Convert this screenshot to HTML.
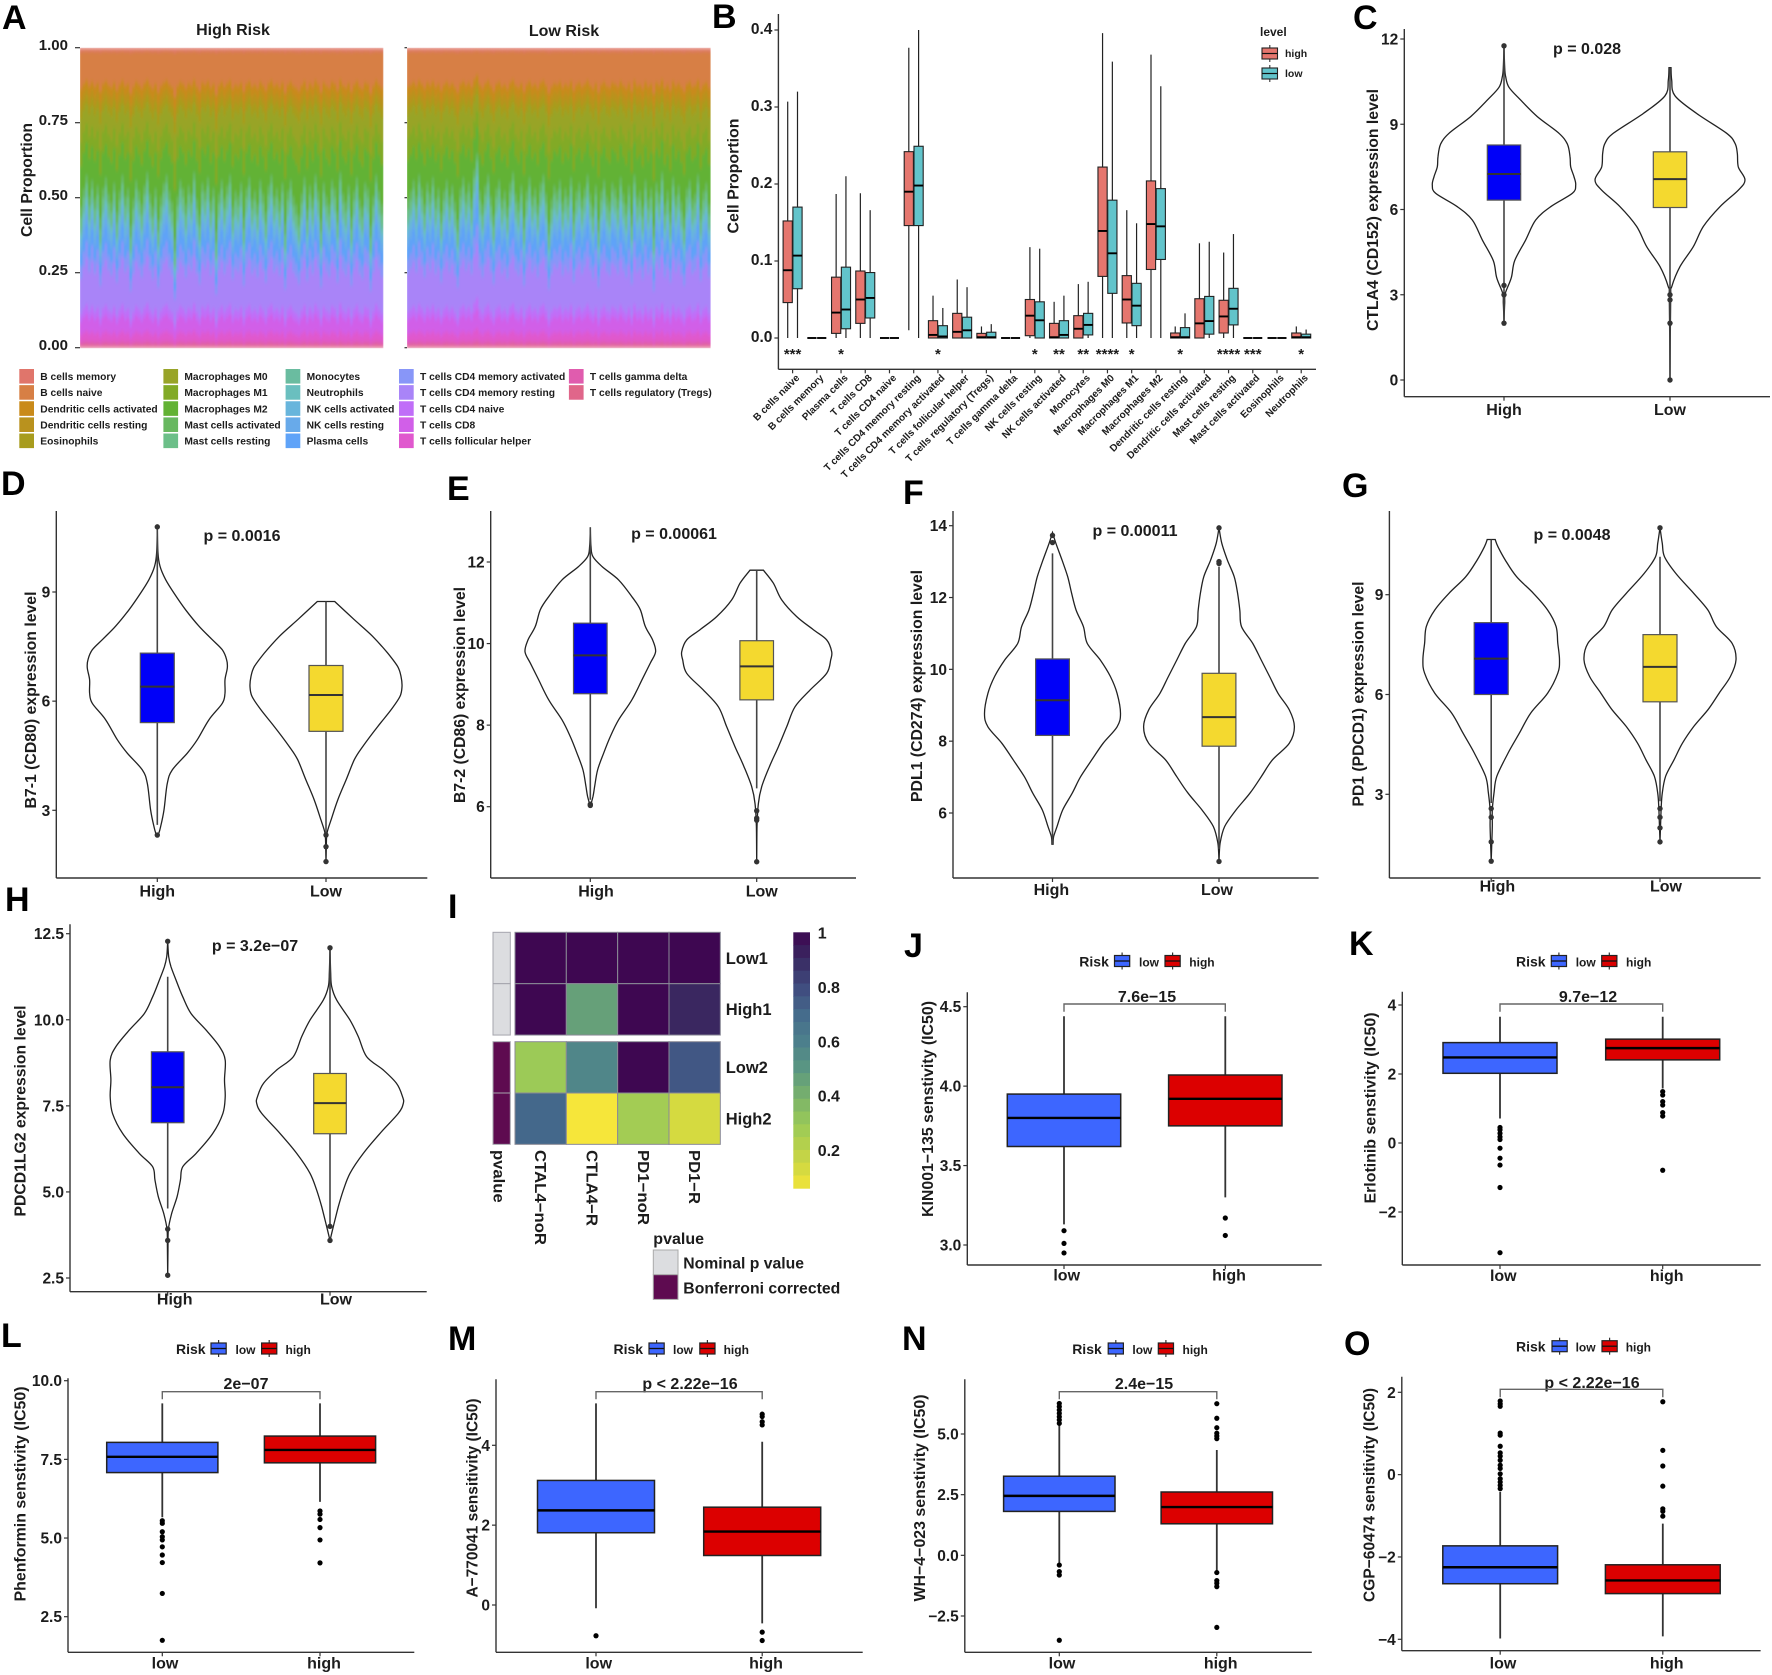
<!DOCTYPE html>
<html lang="en">
<head>
<meta charset="utf-8">
<title>Immune infiltration and drug sensitivity figure</title>
<style>
html,body{margin:0;padding:0;background:#fff}
svg{display:block}
text{font-family:"Liberation Sans",sans-serif;font-weight:bold;fill:#1c1c1c}
.letter{font-size:34px;fill:#000}
.ytitle{font-size:16px;text-anchor:middle}
.pval{font-size:16px;text-anchor:middle}
</style>
</head>
<body>
<svg id="fig" xmlns="http://www.w3.org/2000/svg" width="1772" height="1675" viewBox="0 0 1772 1675">
<defs>
<filter id="soft" x="-2%" y="-2%" width="104%" height="104%"><feGaussianBlur stdDeviation="0.7 2"/></filter>
<clipPath id="clipHigh"><rect x="80" y="47.7" width="303.4" height="300.6"/></clipPath>
<clipPath id="clipLow"><rect x="407" y="47.7" width="303.7" height="300.6"/></clipPath>
</defs>
<rect width="1772" height="1675" fill="#fff"/>

<g id="pA">
<text class="letter" x="2" y="29">A</text>
<text x="233" y="35" font-size="16" text-anchor="middle">High Risk</text>
<text x="564" y="36" font-size="16" text-anchor="middle">Low Risk</text>
<text class="ytitle" transform="translate(32,180) rotate(-90)" textLength="114" lengthAdjust="spacingAndGlyphs">Cell Proportion</text>
</g>
<g id="pB">
<text class="letter" x="712" y="28">B</text>
<text class="ytitle" transform="translate(738.5,176) rotate(-90)" textLength="115" lengthAdjust="spacingAndGlyphs">Cell Proportion</text>
<text x="1260" y="36" font-size="12">level</text>
</g>
<g id="pC">
<text class="letter" x="1353" y="29">C</text>
<text class="ytitle" transform="translate(1378,210) rotate(-90)" textLength="242" lengthAdjust="spacingAndGlyphs">CTLA4 (CD152) expression level</text>
<text class="pval" x="1587" y="54">p = 0.028</text>
</g>
<g id="pD">
<text class="letter" x="1" y="495">D</text>
<text class="ytitle" transform="translate(36,700) rotate(-90)" textLength="217" lengthAdjust="spacingAndGlyphs">B7-1 (CD80) expression level</text>
<text class="pval" x="242" y="541">p = 0.0016</text>
</g>
<g id="pE">
<text class="letter" x="447" y="500">E</text>
<text class="ytitle" transform="translate(465,695) rotate(-90)" textLength="216" lengthAdjust="spacingAndGlyphs">B7-2 (CD86) expression level</text>
<text class="pval" x="674" y="539">p = 0.00061</text>
</g>
<g id="pF">
<text class="letter" x="903" y="504">F</text>
<text class="ytitle" transform="translate(922,686) rotate(-90)" textLength="232" lengthAdjust="spacingAndGlyphs">PDL1 (CD274) expression level</text>
<text class="pval" x="1135" y="536">p = 0.00011</text>
</g>
<g id="pG">
<text class="letter" x="1342" y="497">G</text>
<text class="ytitle" transform="translate(1363.5,694) rotate(-90)" textLength="225" lengthAdjust="spacingAndGlyphs">PD1 (PDCD1) expression level</text>
<text class="pval" x="1572" y="540">p = 0.0048</text>
</g>
<g id="pH">
<text class="letter" x="5" y="911">H</text>
<text class="ytitle" transform="translate(25.5,1111) rotate(-90)" textLength="211" lengthAdjust="spacingAndGlyphs">PDCD1LG2 expression level</text>
<text class="pval" x="255" y="951">p = 3.2e−07</text>
</g>
<g id="pI">
<text class="letter" x="448" y="918">I</text>
<text x="653.3" y="1244" font-size="16">pvalue</text>
<rect x="653.3" y="1250" width="24.7" height="24.7" fill="#DCDDE0" stroke="#aaa" stroke-width="1"/>
<rect x="653.3" y="1274.7" width="24.7" height="24.7" fill="#5E0B50" stroke="#aaa" stroke-width="1"/>
<text x="683.3" y="1268.3" font-size="16" textLength="120.7" lengthAdjust="spacingAndGlyphs">Nominal p value</text>
<text x="683.3" y="1293.3" font-size="16" textLength="157" lengthAdjust="spacingAndGlyphs">Bonferroni corrected</text>
</g>
<g id="pJ">
<text class="letter" x="904" y="957">J</text>
<text class="ytitle" transform="translate(933,1109) rotate(-90)" textLength="216" lengthAdjust="spacingAndGlyphs">KIN001−135 senstivity (IC50)</text>
<text class="pval" x="1147" y="1002">7.6e−15</text>
</g>
<g id="pK">
<text class="letter" x="1349" y="955">K</text>
<text class="ytitle" transform="translate(1375.5,1108) rotate(-90)" textLength="191" lengthAdjust="spacingAndGlyphs">Erlotinib senstivity (IC50)</text>
<text class="pval" x="1588" y="1002">9.7e−12</text>
</g>
<g id="pL">
<text class="letter" x="1" y="1347">L</text>
<text class="ytitle" transform="translate(25.5,1494) rotate(-90)" textLength="215" lengthAdjust="spacingAndGlyphs">Phenformin senstivity (IC50)</text>
<text class="pval" x="246" y="1389">2e−07</text>
</g>
<g id="pM">
<text class="letter" x="448" y="1350">M</text>
<text class="ytitle" transform="translate(477.5,1498) rotate(-90)" textLength="199" lengthAdjust="spacingAndGlyphs">A−770041 sensitivity (IC50)</text>
<text class="pval" x="690" y="1389">p &lt; 2.22e−16</text>
</g>
<g id="pN">
<text class="letter" x="902" y="1350">N</text>
<text class="ytitle" transform="translate(925,1498) rotate(-90)" textLength="207" lengthAdjust="spacingAndGlyphs">WH−4−023 senstivity (IC50)</text>
<text class="pval" x="1144" y="1389">2.4e−15</text>
</g>
<g id="pO">
<text class="letter" x="1344" y="1355">O</text>
<text class="ytitle" transform="translate(1374.5,1495) rotate(-90)" textLength="214" lengthAdjust="spacingAndGlyphs">CGP−60474 sensitivity (IC50)</text>
<text class="pval" x="1592" y="1388">p &lt; 2.22e−16</text>
</g>
</svg>
<script>
/* ===== Panel A data ===== */
const cellTypes=['B cells memory','B cells naive','Dendritic cells activated','Dendritic cells resting','Eosinophils','Macrophages M0','Macrophages M1','Macrophages M2','Mast cells activated','Mast cells resting','Monocytes','Neutrophils','NK cells activated','NK cells resting','Plasma cells','T cells CD4 memory activated','T cells CD4 memory resting','T cells CD4 naive','T cells CD8','T cells follicular helper','T cells gamma delta','T cells regulatory (Tregs)'];
const cellColors=['#E0756B','#D77F45','#C98A1A','#B9921E','#A89C1E','#98A428','#82AA26','#62B234','#68B860','#6CBF88','#6ABCA0','#6ABFBF','#68B5DC','#68AAEA','#5FA3F8','#8896F8','#A984F8','#C06EF8','#D15FE8','#E058CE','#E05CAE','#E0668A'];
const cellMeans=[.012,.108,.03,.03,.03,.07,.07,.12,.03,.03,.02,.02,.03,.03,.05,.05,.14,.03,.05,.03,.01,.01];
const proportionTicks=['0.00','0.25','0.50','0.75','1.00'];
const highRiskSplit=[.40,.47,.52,.44,.50,.43,.48,.36,.47,.51,.45,.42,.49,.38,.46,.52,.44,.47,.33,.43,.50,.46,.41,.48,.53,.45,.40,.47,.35,.44,.49,.52,.46,.42,.28,.44,.50,.47,.41,.48,.45,.53,.43,.37,.49,.46,.51,.42,.47,.31,.45,.50,.43,.48,.52,.40,.46,.44,.49,.36,.47,.51,.43,.46,.41,.50,.45,.38,.48,.52,.44,.47,.42,.49,.34,.46,.50,.44,.41,.37,.45,.51,.39,.48,.43,.52,.46,.35,.49,.44,.41,.50,.47,.38,.53,.45,.42,.48,.36,.46,.51,.43,.40,.49,.47,.33,.44,.52,.46,.41];
const lowRiskSplit=[.43,.46,.50,.44,.52,.47,.41,.49,.45,.51,.43,.47,.38,.46,.50,.44,.48,.42,.35,.47,.51,.45,.49,.43,.54,.60,.46,.41,.48,.52,.44,.37,.47,.50,.43,.46,.40,.49,.53,.45,.42,.48,.36,.46,.51,.44,.47,.41,.49,.52,.45,.34,.43,.48,.46,.50,.42,.47,.44,.51,.38,.46,.49,.43,.47,.52,.45,.40,.48,.35,.46,.50,.44,.42,.49,.47,.43,.51,.45,.41,.48,.37,.52,.44,.46,.40,.50,.43,.47,.33,.49,.45,.53,.41,.46,.38,.51,.44,.48,.42,.36,.47,.50,.43,.45,.52,.39,.46,.49,.41];

/* ===== Panel B data ===== */
const immuneCells=['B cells naive','B cells memory','Plasma cells','T cells CD8','T cells CD4 naive','T cells CD4 memory resting','T cells CD4 memory activated','T cells follicular helper','T cells regulatory (Tregs)','T cells gamma delta','NK cells resting','NK cells activated','Monocytes','Macrophages M0','Macrophages M1','Macrophages M2','Dendritic cells resting','Dendritic cells activated','Mast cells resting','Mast cells activated','Eosinophils','Neutrophils'];
const bTicks=['0.0','0.1','0.2','0.3','0.4'];
const bHighUpper=[.307,0,.187,.188,0,.377,.055,.076,.015,0,.118,.047,.07,.396,.166,.368,.015,.123,.111,0,0,.015];
const bHighQ3=[.152,0,.079,.087,0,.242,.0225,.032,.006,0,.05,.019,.029,.222,.081,.204,.0065,.051,.049,0,0,.0065];
const bHighMedian=[.088,0,.033,.05,0,.19,.004,.008,.001,0,.029,.001,.012,.139,.05,.148,.001,.019,.028,0,0,.001];
const bHighQ1=[.046,0,.006,.019,0,.146,0,0,0,0,.003,0,0,.08,.0195,.089,0,0,.0065,0,0,0];
const bHighLower=[0,0,0,0,0,.01,0,0,0,0,0,0,0,0,0,0,0,0,0,0,0,0];
const bLowUpper=[.32,0,.21,.166,0,.4,.039,.066,.018,0,.116,.055,.073,.359,.149,.327,.032,.125,.135,0,0,.011];
const bLowQ3=[.17,0,.092,.085,0,.249,.016,.027,.0075,0,.047,.0225,.032,.179,.071,.194,.0135,.054,.0645,0,0,.005];
const bLowMedian=[.107,0,.037,.052,0,.198,.002,.01,.001,0,.023,.004,.017,.11,.042,.145,.001,.022,.038,0,0,.001];
const bLowQ1=[.064,0,.012,.026,0,.146,0,0,0,0,0,0,.004,.058,.016,.102,0,.005,.017,0,0,0];
const bLowLower=[0,0,0,0,0,0,0,0,0,0,0,0,0,0,0,0,0,0,0,0,0,0];
const bStars=['***','','*','','','','*','','','','*','**','**','****','*','','*','','****','***','','*'];

/* ===== Violin panels: levels, density, box [lower,q1,median,q3,upper], outliers ===== */
const riskGroups=['High','Low'];

const cTicks=['0','3','6','9','12'];
const cLevelsHigh=[11.76,11,10.67,10.3,9.85,9.27,8.68,8.3,7.86,7.5,7.15,6.86,6.57,6.1,5.63,4.93,4.2,3.6,3.05,2.7,2];
const cDensityHigh=[0,2,5,15,50,100,165,190,198,200,210,215,205,140,95,65,32,22,4,2,0];
const cBoxHigh=[2,6.33,7.25,8.27,11.76];
const cOutliersHigh=[11.76,3.33,3,2];
const cLevelsLow=[10.99,10.55,10,9.38,8.68,8.33,7.98,7.5,7.04,6.68,6.1,5.4,4.69,3.99,3.28,2.93,0];
const cDensityLow=[3,5,15,80,170,195,202,205,225,205,150,100,70,30,5,2,0];
const cBoxLow=[0,6.07,7.07,8.03,10.99];
const cOutliersLow=[3,2.82,2,0];

const dTicks=['3','6','9'];
const dLevelsHigh=[10.79,10.07,9.71,9.34,8.97,8.51,8.06,7.69,7.41,7.14,6.91,6.59,6.22,5.94,5.49,4.94,4.57,4.11,3.74,3.01,2.55,2.32];
const dDensityHigh=[0,2,8,25,50,85,125,165,195,208,210,203,203,195,155,120,90,45,30,20,10,3];
const dBoxHigh=[2.6,5.41,6.4,7.32,10.79];
const dOutliersHigh=[10.79,2.32];
const dLevelsLow=[8.74,8.24,7.78,7.32,6.95,6.68,6.4,6.13,5.76,5.3,4.75,4.39,3.83,3.28,2.73,2.37,2,1.59];
const dDensityLow=[26,85,140,185,215,225,228,222,195,155,110,85,60,35,15,3,1,0];
const dBoxLow=[2.37,5.17,6.17,6.98,8.74];
const dOutliersLow=[2.32,2,1.59];

const eTicks=['6','8','10','12'];
const eLevelsHigh=[12.85,12.38,12.13,11.89,11.56,11.15,10.83,10.42,10.09,9.8,9.52,9.11,8.62,8.13,7.72,7.31,6.9,6.49,6.25,6];
const eDensityHigh=[0,2,8,35,85,125,150,165,187,196,180,155,125,85,60,40,22,13,8,0];
const eBoxHigh=[6.17,8.77,9.71,10.5,12.85];
const eOutliersHigh=[6.06,6.03];
const eLevelsLow=[11.8,11.48,11.07,10.66,10.34,10.09,9.8,9.6,9.27,8.86,8.45,7.96,7.47,6.98,6.49,6.08,5.51,4.65];
const eDensityLow=[20,50,75,120,170,210,225,222,210,160,115,90,65,38,15,5,1,0];
const eBoxLow=[6.45,8.62,9.44,10.07,11.8];
const eOutliersLow=[5.9,5.72,5.67,4.65];

const fTicks=['6','8','10','12','14'];
const fLevelsHigh=[13.81,13.51,13.04,12.58,12.12,11.65,11.19,10.72,10.26,9.8,9.33,8.77,8.4,7.94,7.48,7.01,6.55,6.08,5.62,5.34,5.13];
const fDensityHigh=[0,6,17,27,34,42,55,62,85,103,115,121,115,90,70,50,35,18,8,2,1];
const fBoxHigh=[5.13,8.16,9.14,10.29,13.23];
const fOutliersHigh=[13.73,13.53];
const fLevelsLow=[13.94,13.51,13.04,12.58,12.12,11.65,11.19,10.72,10.26,9.8,9.33,8.87,8.4,7.94,7.48,7.01,6.55,6.08,5.62,5.16,4.65];
const fDensityLow=[0,5,15,27,33,37,40,60,75,90,105,125,134,125,95,75,55,30,10,2,0];
const fBoxLow=[5,7.86,8.67,9.89,12.86];
const fOutliersLow=[13.94,13,12.95,4.65];

const gTicks=['3','6','9'];
const gLevelsHigh=[10.66,10.44,10.04,9.54,9.04,8.54,8.04,7.54,7.04,6.64,6.04,5.44,4.84,4.24,3.54,3.04,2.54,2.04,1.54,.99];
const gDensityHigh=[7,12,25,45,75,100,115,118,121,118,100,70,50,30,10,5,2,2,1,0];
const gBoxHigh=[2.74,6,7.08,8.16,10.66];
const gOutliersHigh=[2.57,2.31,1.57,.99];
const gLevelsLow=[11.01,10.54,10.14,9.64,9.04,8.54,8.04,7.54,7.04,6.54,6.04,5.54,5.04,4.54,4.04,3.54,3.04,2.54,1.57];
const gDensityLow=[0,4,8,28,60,85,100,128,135,125,105,85,60,40,25,10,4,2,0];
const gBoxLow=[2.79,5.78,6.83,7.8,10.14];
const gOutliersLow=[11.01,2.57,2.31,1.99,1.57];

const hTicks=['2.5','5.0','7.5','10.0','12.5'];
const hLevelsHigh=[12.28,11.83,11.54,11.15,10.67,10.18,9.7,9.22,8.83,8.25,7.76,7.28,6.7,6.12,5.73,5.34,4.86,4.38,3.92,3.41,2.58];
const hDensityHigh=[0,3,10,25,45,70,115,155,172,170,172,165,135,85,45,38,28,12,2,1,0];
const hBoxHigh=[4.52,7.01,8.04,9.07,11.25];
const hOutliersHigh=[12.28,3.92,3.59,2.58];
const hLevelsLow=[12.09,11.35,10.96,10.57,9.99,9.51,8.93,8.54,8.15,7.76,7.57,7.28,6.7,6.12,5.54,5.05,4.57,3.99,3.59];
const hDensityLow=[0,2,5,20,60,85,110,160,200,218,220,205,150,100,60,40,25,10,0];
const hBoxLow=[3.99,6.69,7.58,8.44,12.09];
const hOutliersLow=[12.09,4,3.59];

/* ===== Heatmap data ===== */
const heatRows=['Low1','High1','Low2','High2'];
const heatCols=['CTAL4−noR','CTLA4−R','PD1−noR','PD1−R'];
const heatValuesLow1=[1,1,1,1];
const heatValuesHigh1=[1,.46,1,.91];
const heatValuesLow2=[.29,.57,1,.76];
const heatValuesHigh2=[.71,.06,.27,.13];
const colorbarTicks=['1','0.8','0.6','0.4','0.2'];
const annotationGroups=['Nominal p value','Nominal p value','Bonferroni corrected','Bonferroni corrected'];

/* ===== Drug boxplots: box [lower,q1,median,q3,upper], outliers ===== */
const drugGroups=['low','high'];

const jTicks=['3.0','3.5','4.0','4.5'];
const jBoxLow=[3.13,3.62,3.8,3.95,4.44];
const jOutliersLow=[3.09,3.01,2.95];
const jBoxHigh=[3.3,3.75,3.92,4.07,4.44];
const jOutliersHigh=[3.17,3.06];

const kTicks=['−2','0','2','4'];
const kBoxLow=[.71,2.02,2.48,2.91,3.66];
const kOutliersLow=[.45,.38,.28,.18,.1,-.15,-.44,-.64,-1.29,-3.18];
const kBoxHigh=[1.58,2.41,2.75,3.01,3.66];
const kOutliersHigh=[1.49,1.39,1.2,1.1,.88,.78,-.79];

const lTicks=['2.5','5.0','7.5','10.0'];
const lBoxLow=[5.66,7.08,7.58,8.04,9.28];
const lOutliersLow=[5.55,5.47,5.2,5.04,4.94,4.72,4.46,4.22,3.24,1.75];
const lBoxHigh=[6.15,7.39,7.8,8.24,9.28];
const lOutliersHigh=[5.86,5.76,5.59,5.33,4.94,4.21];

const mTicks=['0','2','4'];
const mBoxLow=[-.08,1.81,2.37,3.12,5.05];
const mOutliersLow=[-.77];
const mBoxHigh=[-.46,1.24,1.84,2.45,4.09];
const mOutliersHigh=[4.78,4.72,4.59,4.51,-.68,-.89];

const nTicks=['−2.5','0.0','2.5','5.0'];
const nBoxLow=[-.33,1.81,2.45,3.26,5.37];
const nOutliersLow=[6.26,6.13,5.99,5.85,5.71,5.58,5.44,-.4,-.67,-.81,-3.5];
const nBoxHigh=[-.67,1.3,1.99,2.61,4.34];
const nOutliersHigh=[6.25,5.65,5.26,5.03,4.92,4.81,-.71,-1.04,-1.15,-1.29,-2.97];

const oTicks=['−4','−2','0','2'];
const oBoxLow=[-3.98,-2.65,-2.25,-1.73,-.42];
const oOutliersLow=[1.79,1.72,1.66,1.01,.96,.69,.53,.45,.35,.23,.15,.02,-.1,-.18,-.26,-.34];
const oBoxHigh=[-3.93,-2.89,-2.57,-2.19,-1.19];
const oOutliersHigh=[1.77,.59,.21,-.28,-.83,-.89,-1.01];

/* ===== Helpers ===== */
const NS='http://www.w3.org/2000/svg';
function add(parent,tag,name,attrs,text){
  const el=document.createElementNS(NS,tag);
  for(const k in attrs){el.setAttribute(k,attrs[k]);}
  
  
  if(text!==undefined){el.textContent=text;}
  parent.appendChild(el);
  return el;
}
function tickNumber(s){return Number(String(s).replace('−','-'));}
function linearY(p){const k=(p.py1-p.py0)/(p.v1-p.v0);return v=>p.py0+(v-p.v0)*k;}
function drawYAxis(g,p,ticks,y){
  add(g,'line','y-axis-line',{x1:p.axisX,x2:p.axisX,y1:p.top,y2:p.bottom,stroke:'#333','stroke-width':1.4});
  ticks.forEach(t=>{
    const yy=y(tickNumber(t));
    add(g,'line','y-axis-tick',{x1:p.axisX-4,x2:p.axisX,y1:yy,y2:yy,stroke:'#333','stroke-width':1.2});
    add(g,'text','y-axis-tick-label',{x:p.axisX-6,y:yy+(p.tickShift===undefined?5.5:p.tickShift),'font-size':15.5,'text-anchor':'end'},t);
  });
}
function drawXAxis(g,p,labels){
  add(g,'line','x-axis-line',{x1:p.axisX,x2:p.right,y1:p.bottom,y2:p.bottom,stroke:'#333','stroke-width':1.4});
  labels.forEach((c,i)=>{
    add(g,'line','x-axis-tick',{x1:p.centers[i],x2:p.centers[i],y1:p.bottom,y2:p.bottom+4,stroke:'#333','stroke-width':1.2});
    add(g,'text','x-axis-tick-label',{x:p.labelX[i],y:p.labelY,'font-size':p.labelSize||16,'text-anchor':'middle'},c);
  });
}
function smoothSegment(pts,first){
  let d=first?('M'+pts[0].x.toFixed(1)+' '+pts[0].y.toFixed(1)):('L'+pts[0].x.toFixed(1)+' '+pts[0].y.toFixed(1));
  for(let i=0;i<pts.length-1;i++){
    const a=pts[Math.max(i-1,0)],b=pts[i],c=pts[i+1],e=pts[Math.min(i+2,pts.length-1)];
    const c1x=b.x+(c.x-a.x)/6,c1y=b.y+(c.y-a.y)/6,c2x=c.x-(e.x-b.x)/6,c2y=c.y-(e.y-b.y)/6;
    d+='C'+c1x.toFixed(1)+' '+c1y.toFixed(1)+' '+c2x.toFixed(1)+' '+c2y.toFixed(1)+' '+c.x.toFixed(1)+' '+c.y.toFixed(1);
  }
  return d;
}
function drawViolin(g,y,cx,halfW,levels,density,box,outliers,fill,boxHalf){
  const maxD=Math.max.apply(null,density);
  const right=levels.map((l,i)=>({x:cx+density[i]/maxD*halfW,y:y(l)}));
  const left=levels.map((l,i)=>({x:cx-density[i]/maxD*halfW,y:y(l)})).reverse();
  add(g,'path','violin-outline',{d:smoothSegment(right,true)+smoothSegment(left,false)+'Z',fill:'none',stroke:'#222','stroke-width':1.3});
  add(g,'line','box-whisker',{x1:cx,x2:cx,y1:y(box[4]),y2:y(box[0]),stroke:'#444','stroke-width':1.6});
  add(g,'rect','box-iqr',{x:cx-boxHalf,y:y(box[3]),width:boxHalf*2,height:y(box[1])-y(box[3]),fill:fill,stroke:'#555','stroke-width':1.2});
  add(g,'line','box-median',{x1:cx-boxHalf,x2:cx+boxHalf,y1:y(box[2]),y2:y(box[2]),stroke:'#333','stroke-width':2});
  outliers.forEach(v=>{
    add(g,'circle','outlier-point',{cx:cx,cy:y(v),r:2.7,fill:'#333'});
  });
}
function violinPanel(id,p,ticks,high,low){
  const g=document.getElementById(id);
  const y=linearY(p);
  drawYAxis(g,p,ticks,y);
  drawXAxis(g,p,riskGroups);
  drawViolin(g,y,p.centers[0],p.halfW[0],high[0],high[1],high[2],high[3],'#0000F8',p.boxHalf);
  drawViolin(g,y,p.centers[1],p.halfW[1],low[0],low[1],low[2],low[3],'#F4D92F',p.boxHalf);
}
function drawDrugBox(g,y,cx,half,box,outliers,fill){
  add(g,'line','box-whisker',{x1:cx,x2:cx,y1:y(box[4]),y2:y(box[0]),stroke:'#333','stroke-width':1.8});
  add(g,'rect','box-iqr',{x:cx-half,y:y(box[3]),width:half*2,height:y(box[1])-y(box[3]),fill:fill,stroke:'#222','stroke-width':1.5});
  add(g,'line','box-median',{x1:cx-half,x2:cx+half,y1:y(box[2]),y2:y(box[2]),stroke:'#000','stroke-width':2.4});
  outliers.forEach(v=>{
    add(g,'circle','outlier-point',{cx:cx,cy:y(v),r:2.6,fill:'#000'});
  });
}
function drawRiskLegend(g,l){
  add(g,'text','legend-title',{x:l.risk,y:l.y,'font-size':14},'Risk');
  [[l.lowKey,'#3D66FF','low',l.lowText],[l.highKey,'#DC0000','high',l.highText]].forEach(k=>{
    const cx=k[0]+7.6;
    add(g,'line','legend-key-whisker',{x1:cx,x2:cx,y1:l.y-14,y2:l.y+3,stroke:'#333','stroke-width':1.2});
    add(g,'rect','legend-key-box',{x:k[0],y:l.y-11,width:15.2,height:11,fill:k[1],stroke:'#222','stroke-width':1.2});
    add(g,'line','legend-key-median',{x1:k[0],x2:k[0]+15.2,y1:l.y-5.5,y2:l.y-5.5,stroke:'#111','stroke-width':1.3});
    add(g,'text','legend-label',{x:k[3],y:l.y,'font-size':12},k[2]);
  });
}
function drugPanel(id,p,ticks,boxLow,outLow,boxHigh,outHigh){
  const g=document.getElementById(id);
  const y=linearY(p);
  drawYAxis(g,p,ticks,y);
  drawXAxis(g,p,drugGroups);
  drawDrugBox(g,y,p.centers[0],p.boxHalf,boxLow,outLow,'#3D66FF');
  drawDrugBox(g,y,p.centers[1],p.boxHalf,boxHigh,outHigh,'#DC0000');
  add(g,'path','significance-bracket',{d:'M'+p.centers[0]+' '+p.bracketDrop+'V'+p.bracketY+'H'+p.centers[1]+'V'+p.bracketDrop,fill:'none',stroke:'#666','stroke-width':1.4});
  drawRiskLegend(g,p.legend);
}

/* ===== Panel A ===== */
(function(){
  const g=document.getElementById('pA');
  const y=v=>347.7-v*300;
  const upperCount=10;
  let upperSum=0,lowerSum=0;
  cellMeans.forEach((m,i)=>{if(i<upperCount){upperSum+=m;}else{lowerSum+=m;}});
  function stack(name,x0,x1,split,clip){
    const outer=add(g,'g',name,{'clip-path':'url(#'+clip+')'});
    const inner=add(outer,'g',name+'-bars',{filter:'url(#soft)'});
    const w=(x1-x0)/split.length;
    split.forEach((s,i)=>{
      let top=1;
      cellMeans.forEach((m,c)=>{
        const h=c<upperCount?m/upperSum*(1-s):m/lowerSum*s;
        add(inner,'rect','stack-segment',{x:x0+i*w-.3,y:y(top),width:w+.6,height:y(top-h)-y(top)+.3,fill:cellColors[c]});
        top-=h;
      });
    });
  }
  stack('high-risk-stack',80,383.4,highRiskSplit,'clipHigh');
  stack('low-risk-stack',407,710.7,lowRiskSplit,'clipLow');
  proportionTicks.forEach(t=>{
    const yy=y(Number(t));
    add(g,'line','y-axis-tick',{x1:75,x2:80,y1:yy,y2:yy,stroke:'#333','stroke-width':1.2});
    add(g,'line','y-axis-tick-right-facet',{x1:404.5,x2:407,y1:yy,y2:yy,stroke:'#333','stroke-width':1.2});
    add(g,'text','y-axis-tick-label',{x:68,y:yy+2.5,'font-size':15,'text-anchor':'end'},t);
  });
  const colX=[19.3,163.4,285.6,399,568.9];
  const colBreak=[0,5,10,15,20];
  cellTypes.forEach((c,i)=>{
    let col=0;
    colBreak.forEach((b,k)=>{if(i>=b){col=k;}});
    const row=i-colBreak[col];
    const top=369+row*16.13;
    add(g,'rect','legend-swatch',{x:colX[col],y:top,width:14.7,height:14.6,fill:cellColors[i]});
    add(g,'text','legend-label',{x:colX[col]+21,y:top+11,'font-size':10.25},c);
  });
})();

/* ===== Panel B ===== */
(function(){
  const g=document.getElementById('pB');
  const y=v=>338-v*770;
  const x=i=>792.6+i*24.22;
  const p={axisX:778.4,top:14,bottom:369.3,tickShift:4};
  drawYAxis(g,p,bTicks,y);
  add(g,'line','x-axis-line',{x1:p.axisX,x2:1316,y1:p.bottom,y2:p.bottom,stroke:'#333','stroke-width':1.4});
  function box(cx,lo,q1,med,q3,hi,fill){
    add(g,'line','box-whisker',{x1:cx,x2:cx,y1:y(hi),y2:y(lo),stroke:'#222','stroke-width':1.2});
    add(g,'rect','box-iqr',{x:cx-4.6,y:y(q3),width:9.2,height:y(q1)-y(q3),fill:fill,stroke:'#222','stroke-width':1.1});
    add(g,'line','box-median',{x1:cx-4.6,x2:cx+4.6,y1:y(med),y2:y(med),stroke:'#000','stroke-width':1.9});
  }
  immuneCells.forEach((c,i)=>{
    const tx=x(i);
    add(g,'line','x-axis-tick',{x1:tx,x2:tx,y1:p.bottom,y2:p.bottom+4,stroke:'#333','stroke-width':1.2});
    add(g,'text','x-axis-tick-label',{transform:'translate('+(tx+7.4)+',378.5) rotate(-45)','font-size':10,'text-anchor':'end'},c);
    box(tx-4.9,bHighLower[i],bHighQ1[i],bHighMedian[i],bHighQ3[i],bHighUpper[i],'#E5766E');
    box(tx+4.9,bLowLower[i],bLowQ1[i],bLowMedian[i],bLowQ3[i],bLowUpper[i],'#62C4CB');
    if(bStars[i]){
      add(g,'text','significance-stars',{x:tx,y:359,'font-size':15,'text-anchor':'middle'},bStars[i]);
    }
  });
  [[48,'#E5766E','high',54],[68,'#62C4CB','low',74]].forEach(k=>{
    add(g,'line','legend-key-whisker',{x1:1269.8,x2:1269.8,y1:k[0]-3,y2:k[0]+14,stroke:'#333','stroke-width':1.1});
    add(g,'rect','legend-key-box',{x:1262,y:k[0],width:15.5,height:11,fill:k[1],stroke:'#222','stroke-width':1.1});
    add(g,'line','legend-key-median',{x1:1262,x2:1277.5,y1:k[0]+5.5,y2:k[0]+5.5,stroke:'#111','stroke-width':1.2});
    add(g,'text','legend-label',{x:1285,y:k[3]+3,'font-size':10.5},k[2]);
  });
})();

/* ===== Violin panels ===== */
violinPanel('pC',{axisX:1404.3,top:29,bottom:396.7,right:1770,v0:0,py0:380,v1:12,py1:39,centers:[1504,1670],labelX:[1504,1670],labelY:415,halfW:[71.7,75],boxHalf:16.7},cTicks,[cLevelsHigh,cDensityHigh,cBoxHigh,cOutliersHigh],[cLevelsLow,cDensityLow,cBoxLow,cOutliersLow]);
violinPanel('pD',{axisX:56.3,top:511,bottom:878,right:427.3,v0:3,py0:810.3,v1:9,py1:592,centers:[157.3,326],labelX:[157.3,326],labelY:896.7,halfW:[70,76],boxHalf:17},dTicks,[dLevelsHigh,dDensityHigh,dBoxHigh,dOutliersHigh],[dLevelsLow,dDensityLow,dBoxLow,dOutliersLow]);
violinPanel('pE',{axisX:490.7,top:511,bottom:878,right:856,v0:6,py0:806.7,v1:12,py1:562,centers:[590.3,756.7],labelX:[596,761.7],labelY:896.7,halfW:[65.3,75],boxHalf:16.8},eTicks,[eLevelsHigh,eDensityHigh,eBoxHigh,eOutliersHigh],[eLevelsLow,eDensityLow,eBoxLow,eOutliersLow]);
violinPanel('pF',{axisX:953,top:511,bottom:878,right:1318.6,v0:6,py0:813,v1:14,py1:525.7,centers:[1052.5,1219],labelX:[1051.4,1217],labelY:895,halfW:[68,75.4],boxHalf:16.9},fTicks,[fLevelsHigh,fDensityHigh,fBoxHigh,fOutliersHigh],[fLevelsLow,fDensityLow,fBoxLow,fOutliersLow]);
violinPanel('pG',{axisX:1389.4,top:511,bottom:878,right:1760.6,v0:3,py0:794.3,v1:9,py1:594.7,centers:[1491.2,1660],labelX:[1497.4,1666],labelY:891.7,halfW:[68.3,76],boxHalf:17},gTicks,[gLevelsHigh,gDensityHigh,gBoxHigh,gOutliersHigh],[gLevelsLow,gDensityLow,gBoxLow,gOutliersLow]);
violinPanel('pH',{axisX:70,top:924.3,bottom:1291.7,right:426.7,v0:2.5,py0:1278,v1:12.5,py1:933.7,centers:[167.7,330],labelX:[174.7,336],labelY:1304.3,halfW:[57.5,73.3],boxHalf:16.3},hTicks,[hLevelsHigh,hDensityHigh,hBoxHigh,hOutliersHigh],[hLevelsLow,hDensityLow,hBoxLow,hOutliersLow]);

/* ===== Panel I heatmap ===== */
(function(){
  const g=document.getElementById('pI');
  const ramp=[[1,'#3e0751'],[.9,'#392a62'],[.8,'#3f4a7e'],[.7,'#456b8c'],[.6,'#4c7f8c'],[.5,'#5a9682'],[.4,'#78b06c'],[.3,'#98c958'],[.2,'#bcd24a'],[.1,'#e0dd3c'],[.06,'#f6e63a']];
  function rgb(h){return [parseInt(h.slice(1,3),16),parseInt(h.slice(3,5),16),parseInt(h.slice(5,7),16)];}
  function colorOf(v){
    for(let i=0;i<ramp.length-1;i++){
      const a=ramp[i],b=ramp[i+1];
      if(v<=a[0]&&v>=b[0]){
        const t=(a[0]-v)/(a[0]-b[0]),ca=rgb(a[1]),cb=rgb(b[1]);
        return 'rgb('+ca.map((c,k)=>Math.round(c+(cb[k]-c)*t)).join(',')+')';
      }
    }
    return v>1?ramp[0][1]:ramp[ramp.length-1][1];
  }
  const heat=[heatValuesLow1,heatValuesHigh1,heatValuesLow2,heatValuesHigh2];
  const rowY=[932.3,983.7,1041.7,1093];
  const cw=51.33,rh=51.35,x0=515;
  heat.forEach((row,r)=>{
    add(g,'rect','annotation-cell',{x:493,y:rowY[r],width:17.3,height:rh,fill:annotationGroups[r].indexOf('Nominal')===0?'#DCDDE0':'#5E0B50',stroke:'#a5a5ad','stroke-width':1});
    row.forEach((v,c)=>{
      add(g,'rect','heatmap-cell',{x:x0+c*cw,y:rowY[r],width:cw,height:rh,fill:colorOf(v),stroke:'#8a8a96','stroke-width':1});
    });
    add(g,'text','heatmap-row-label',{x:725.7,y:rowY[r]+31.5,'font-size':16.5},heatRows[r]);
  });
  add(g,'text','annotation-column-label',{transform:'translate(493.5,1150) rotate(90)','font-size':16,textLength:52.7,lengthAdjust:'spacingAndGlyphs'},'pvalue');
  const lens=[95,76,75,54];
  heatCols.forEach((c,i)=>{
    add(g,'text','heatmap-column-label',{transform:'translate('+(x0+i*cw+20.2)+',1150) rotate(90)','font-size':16,textLength:lens[i],lengthAdjust:'spacingAndGlyphs'},c);
  });
  const steps=20,barTop=932.3,barH=256;
  for(let i=0;i<steps;i++){
    const v=1-(i+.5)/steps*.94;
    add(g,'rect','colorbar-step',{x:793.3,y:barTop+i*barH/steps,width:16.7,height:barH/steps+.4,fill:colorOf(v)});
  }
  colorbarTicks.forEach(t=>{
    const yy=933-(Number(t)-1)*272;
    add(g,'text','colorbar-label',{x:817.7,y:yy+5.5,'font-size':16},t);
  });
})();

/* ===== Drug boxplots ===== */
drugPanel('pJ',{axisX:967.3,top:992.3,bottom:1265,right:1321.7,v0:3,py0:1245,v1:4.5,py1:1006.7,centers:[1064,1225.3],labelX:[1066.7,1229],labelY:1280.7,boxHalf:56.7,bracketY:1004,bracketDrop:1011.7,legend:{risk:1079.3,y:966.5,lowKey:1114.5,lowText:1139,highKey:1165,highText:1189.3}},jTicks,jBoxLow,jOutliersLow,jBoxHigh,jOutliersHigh);
drugPanel('pK',{axisX:1402.3,top:991.7,bottom:1265,right:1760.7,v0:-2,py0:1212,v1:4,py1:1005,centers:[1500,1662.7],labelX:[1503.3,1666.7],labelY:1281,boxHalf:57,bracketY:1004,bracketDrop:1011.7,legend:{risk:1516,y:966.5,lowKey:1551.3,lowText:1575.7,highKey:1601.7,highText:1626}},kTicks,kBoxLow,kOutliersLow,kBoxHigh,kOutliersHigh);
drugPanel('pL',{axisX:68,top:1378.3,bottom:1652.3,right:414.3,v0:2.5,py0:1616.7,v1:10,py1:1380.7,centers:[162.3,320],labelX:[165,324],labelY:1668.3,boxHalf:55.6,bracketY:1391.7,bracketDrop:1399.3,legend:{risk:176,y:1354,lowKey:211,lowText:235.5,highKey:261.6,highText:285.5}},lTicks,lBoxLow,lOutliersLow,lBoxHigh,lOutliersHigh);
drugPanel('pM',{axisX:496,top:1379.3,bottom:1652.3,right:862.7,v0:0,py0:1605,v1:4,py1:1445.3,centers:[596,762.2],labelX:[598.7,766],labelY:1668.3,boxHalf:58.5,bracketY:1391.7,bracketDrop:1399.3,legend:{risk:613.5,y:1354,lowKey:649,lowText:673,highKey:699.8,highText:723.6}},mTicks,mBoxLow,mOutliersLow,mBoxHigh,mOutliersHigh);
drugPanel('pN',{axisX:964.8,top:1379.3,bottom:1652.3,right:1311.8,v0:-2.5,py0:1616,v1:5,py1:1434,centers:[1059.3,1216.8],labelX:[1062,1220.7],labelY:1668.3,boxHalf:55.7,bracketY:1391.7,bracketDrop:1399.3,legend:{risk:1072.2,y:1354,lowKey:1108.2,lowText:1132.4,highKey:1158.3,highText:1182.5}},nTicks,nBoxLow,nOutliersLow,nBoxHigh,nOutliersHigh);
drugPanel('pO',{axisX:1401.8,top:1376.7,bottom:1650.7,right:1760.6,v0:-4,py0:1639.3,v1:2,py1:1392.3,centers:[1500.2,1662.8],labelX:[1503,1666.7],labelY:1668.3,boxHalf:57.4,bracketY:1389.3,bracketDrop:1397.3,legend:{risk:1516,y:1351.7,lowKey:1552,lowText:1575.6,highKey:1602,highText:1625.7}},oTicks,oBoxLow,oOutliersLow,oBoxHigh,oOutliersHigh);
</script>
</body>
</html>
